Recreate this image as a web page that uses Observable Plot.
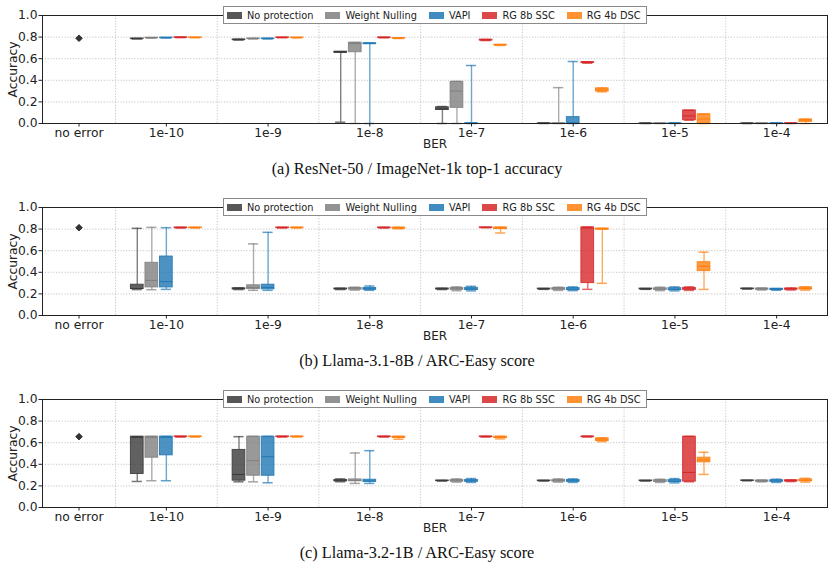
<!DOCTYPE html>
<html>
<head>
<meta charset="utf-8">
<script src="https://cdn.jsdelivr.net/npm/d3@7"></script>
<script src="https://cdn.jsdelivr.net/npm/@observablehq/plot@0.6"></script>
<style>
  html, body { margin: 0; padding: 0; background: white; overflow: hidden; }
  #root { width: 834px; }
  .panel { position: relative; width: 834px; height: 150px; }
  .legend { position: absolute; left: 223px; top: 6px; height: 18px; width: 424px; box-sizing: border-box;
    border: 1px solid #8a8a8a; background: white; display: flex; align-items: center; padding-left: 3px;
    font-family: "DejaVu Sans"; font-size: 9.8px; color: #222; white-space: nowrap; }
  .entry { display: flex; align-items: center; margin-right: 12px; }
  .patch { display: inline-block; width: 15px; height: 7px; margin-right: 5px; opacity: 0.85; }
  .caption { font-family: "Liberation Serif", serif; font-size: 16.3px; color: #111; text-align: center;
    height: 42px; box-sizing: border-box; padding-top: 9px; line-height: 20px; }
</style>
</head>
<body>
<div id="root"></div>
<script>
// ---------- data ----------
const berLabels = ["no error", "1e-10", "1e-9", "1e-8", "1e-7", "1e-6", "1e-5", "1e-4"];
const seriesNames = ["No protection", "Weight Nulling", "VAPI", "RG 8b SSC", "RG 4b DSC"];
const seriesColors = ["#3a3a3a", "#7f7f7f", "#1f77b4", "#d62728", "#ff7f0e"];
const yTicks = [0, 0.2, 0.4, 0.6, 0.8, 1.0];
const captions = [
  "(a) ResNet-50 / ImageNet-1k top-1 accuracy",
  "(b) Llama-3.1-8B / ARC-Easy score",
  "(c) Llama-3.2-1B / ARC-Easy score"
];

// each entry: [min, q1, median, q3, max] for BER 1e-10 ... 1e-4
// (a) ResNet-50
const resnetNoError = 0.789;
const resnetNP = [[0.783,0.784,0.785,0.787,0.788],[0.772,0.774,0.776,0.778,0.780],[0.012,0.655,0.66,0.665,0.665],[0.0,0.125,0.135,0.15,0.157],[0,0,0.001,0.002,0.003],[0,0,0.001,0.001,0.002],[0,0,0.001,0.001,0.002]];
const resnetWN = [[0.791,0.792,0.793,0.794,0.795],[0.783,0.785,0.786,0.787,0.788],[0.0,0.66,0.74,0.748,0.75],[0.0,0.145,0.30,0.385,0.39],[0.0,0.0,0.001,0.003,0.332],[0,0,0.001,0.002,0.003],[0,0,0.001,0.002,0.003]];
const resnetVAPI = [[0.792,0.793,0.794,0.795,0.796],[0.783,0.785,0.786,0.787,0.788],[0.0,0.735,0.74,0.743,0.745],[0.0,0.0,0.001,0.003,0.537],[0.0,0.0,0.005,0.059,0.574],[0,0,0.001,0.002,0.004],[0,0,0.001,0.002,0.004]];
const resnetRG8 = [[0.795,0.796,0.797,0.798,0.799],[0.794,0.795,0.796,0.797,0.798],[0.793,0.795,0.796,0.797,0.798],[0.768,0.77,0.773,0.776,0.778],[0.558,0.562,0.565,0.568,0.572],[0.03,0.031,0.07,0.121,0.122],[0,0,0.001,0.002,0.004]];
const resnetRG4 = [[0.794,0.795,0.796,0.797,0.798],[0.793,0.794,0.795,0.796,0.797],[0.787,0.789,0.79,0.791,0.792],[0.723,0.725,0.727,0.729,0.731],[0.293,0.296,0.31,0.325,0.328],[0.0,0.0,0.04,0.085,0.088],[0.0,0.015,0.03,0.037,0.04]];

// (b) Llama-3.1-8B
const llama8NoError = 0.813;
const llama8NP = [[0.24,0.245,0.25,0.285,0.807],[0.24,0.243,0.247,0.252,0.255],[0.24,0.243,0.246,0.25,0.252],[0.24,0.243,0.246,0.25,0.252],[0.242,0.244,0.246,0.249,0.25],[0.242,0.244,0.246,0.249,0.25],[0.244,0.246,0.248,0.25,0.252]];
const llama8WN = [[0.239,0.26,0.325,0.488,0.816],[0.233,0.245,0.26,0.28,0.663],[0.235,0.24,0.247,0.255,0.262],[0.23,0.238,0.247,0.255,0.265],[0.232,0.238,0.246,0.254,0.262],[0.23,0.237,0.245,0.252,0.262],[0.236,0.24,0.245,0.25,0.255]];
const llama8VAPI = [[0.242,0.26,0.313,0.546,0.813],[0.233,0.242,0.26,0.285,0.77],[0.233,0.238,0.246,0.255,0.273],[0.228,0.236,0.246,0.256,0.27],[0.23,0.235,0.244,0.254,0.265],[0.228,0.234,0.243,0.253,0.265],[0.234,0.237,0.242,0.247,0.25]];
const llama8RG8 = [[0.81,0.811,0.813,0.815,0.816],[0.81,0.811,0.813,0.815,0.816],[0.81,0.811,0.813,0.815,0.816],[0.812,0.813,0.815,0.816,0.817],[0.242,0.30,0.81,0.816,0.818],[0.232,0.238,0.245,0.255,0.265],[0.236,0.24,0.245,0.25,0.254]];
const llama8RG4 = [[0.81,0.811,0.813,0.815,0.816],[0.81,0.811,0.813,0.815,0.816],[0.803,0.805,0.81,0.814,0.816],[0.764,0.80,0.81,0.815,0.817],[0.298,0.795,0.80,0.805,0.807],[0.242,0.411,0.454,0.494,0.586],[0.235,0.24,0.25,0.26,0.265]];

// (c) Llama-3.2-1B
const llama1NoError = 0.656;
const llama1NP = [[0.241,0.31,0.65,0.656,0.656],[0.238,0.248,0.306,0.533,0.656],[0.238,0.243,0.248,0.255,0.265],[0.245,0.246,0.248,0.25,0.251],[0.245,0.246,0.248,0.25,0.251],[0.245,0.246,0.248,0.25,0.251],[0.247,0.248,0.25,0.251,0.252]];
const llama1WN = [[0.248,0.461,0.65,0.656,0.658],[0.238,0.294,0.433,0.656,0.658],[0.223,0.243,0.25,0.26,0.505],[0.235,0.24,0.247,0.255,0.265],[0.235,0.24,0.247,0.255,0.265],[0.232,0.238,0.245,0.253,0.262],[0.237,0.24,0.245,0.25,0.255]];
const llama1VAPI = [[0.248,0.483,0.65,0.656,0.658],[0.229,0.294,0.47,0.656,0.658],[0.223,0.238,0.245,0.257,0.526],[0.232,0.238,0.246,0.255,0.268],[0.232,0.238,0.246,0.255,0.265],[0.228,0.235,0.244,0.254,0.268],[0.232,0.238,0.245,0.253,0.262]];
const llama1RG8 = [[0.652,0.654,0.656,0.658,0.659],[0.652,0.654,0.656,0.658,0.659],[0.652,0.654,0.656,0.658,0.659],[0.652,0.654,0.656,0.658,0.659],[0.652,0.654,0.656,0.658,0.66],[0.238,0.24,0.325,0.656,0.658],[0.24,0.242,0.247,0.252,0.255]];
const llama1RG4 = [[0.652,0.654,0.656,0.658,0.659],[0.652,0.654,0.656,0.658,0.659],[0.632,0.645,0.65,0.656,0.658],[0.635,0.643,0.65,0.655,0.66],[0.61,0.616,0.628,0.64,0.645],[0.306,0.418,0.44,0.461,0.511],[0.235,0.242,0.25,0.26,0.27]];

const panels = [
  {noError: resnetNoError, series: [resnetNP, resnetWN, resnetVAPI, resnetRG8, resnetRG4]},
  {noError: llama8NoError, series: [llama8NP, llama8WN, llama8VAPI, llama8RG8, llama8RG4]},
  {noError: llama1NoError, series: [llama1NP, llama1WN, llama1VAPI, llama1RG8, llama1RG4]}
];

// ---------- layout helpers ----------
const xLeft = -0.2178, xRight = 7.5;
const noErrX = (xLeft + 0.5) / 2;
const tickPos = berLabels.map((d, i) => i === 0 ? noErrX : i);
const tickLabel = new Map(tickPos.map((p, i) => [p, berLabels[i]]));
const step = 0.143, boxW = 0.125, capW = 0.1;
const gridX = d3.range(0.5, 7, 1);

const root = document.getElementById("root");

panels.forEach((panel, pi) => {
  const rows = [];
  panel.series.forEach((arr, si) => {
    arr.forEach((v, bi) => {
      rows.push({series: seriesNames[si], x: (bi + 1) + (si - 2) * step,
        min: v[0], q1: v[1], med: v[2], q3: v[3], max: v[4]});
    });
  });

  const chart = Plot.plot({
    width: 834, height: 150,
    marginLeft: 42, marginRight: 7, marginTop: 15, marginBottom: 27,
    style: {fontFamily: "DejaVu Sans", fontSize: "12.3px", color: "#222", background: "white"},
    x: {domain: [xLeft, xRight]},
    y: {domain: [0, 1]},
    color: {domain: seriesNames, range: seriesColors},
    marks: [
      Plot.ruleY(yTicks.slice(1, 5), {stroke: "#b8b8b8", strokeDasharray: "1.2,1.6", strokeWidth: 0.8}),
      Plot.ruleX(gridX, {stroke: "#b8b8b8", strokeDasharray: "1.2,1.6", strokeWidth: 0.8}),
      Plot.ruleX(rows, {x: "x", y1: "min", y2: "q1", stroke: "series", strokeOpacity: 0.65, strokeWidth: 1.4}),
      Plot.ruleX(rows, {x: "x", y1: "q3", y2: "max", stroke: "series", strokeOpacity: 0.65, strokeWidth: 1.4}),
      Plot.ruleY(rows, {y: "min", x1: d => d.x - capW / 2, x2: d => d.x + capW / 2, stroke: "series", strokeOpacity: 0.7, strokeWidth: 1.5}),
      Plot.ruleY(rows, {y: "max", x1: d => d.x - capW / 2, x2: d => d.x + capW / 2, stroke: "series", strokeOpacity: 0.7, strokeWidth: 1.5}),
      Plot.rect(rows, {x1: d => d.x - boxW / 2, x2: d => d.x + boxW / 2, y1: "q1", y2: "q3",
        fill: "series", fillOpacity: 0.8, stroke: "series", strokeOpacity: 0.85, strokeWidth: 1}),
      Plot.ruleY(rows, {y: "med", x1: d => d.x - boxW / 2, x2: d => d.x + boxW / 2, stroke: "series", strokeWidth: 1}),
      Plot.dot([{x: noErrX, y: panel.noError}], {x: "x", y: "y", symbol: "diamond2", r: 3, fill: "#333", stroke: "#222", strokeWidth: 0.8}),
      Plot.frame({stroke: "#222", strokeWidth: 1}),
      Plot.axisY({ticks: yTicks, tickFormat: d => d.toFixed(1), tickSize: 3.5, tickPadding: 1.5, label: null, fontSize: 12.3}),
      Plot.axisX({ticks: tickPos, tickFormat: d => tickLabel.get(d), tickSize: 3.5, tickPadding: 1, label: null, fontSize: 12.3}),
      Plot.text(["Accuracy"], {frameAnchor: "left", dx: -29, rotate: -90, textAnchor: "middle", lineAnchor: "middle", fontSize: 12.3}),
      Plot.text(["BER"], {frameAnchor: "bottom", dy: 21, textAnchor: "middle", lineAnchor: "middle", fontSize: 12})
    ]
  });

  const wrap = document.createElement("div");
  wrap.className = "panel";
  wrap.appendChild(chart);

  const legend = document.createElement("div");
  legend.className = "legend";
  seriesNames.forEach((name, i) => {
    const e = document.createElement("div");
    e.className = "entry";
    const p = document.createElement("span");
    p.className = "patch";
    p.style.background = seriesColors[i];
    const t = document.createElement("span");
    t.textContent = name;
    e.appendChild(p); e.appendChild(t);
    legend.appendChild(e);
  });
  wrap.appendChild(legend);
  root.appendChild(wrap);

  const cap = document.createElement("div");
  cap.className = "caption";
  cap.textContent = captions[pi];
  root.appendChild(cap);
});
</script>
</body>
</html>
